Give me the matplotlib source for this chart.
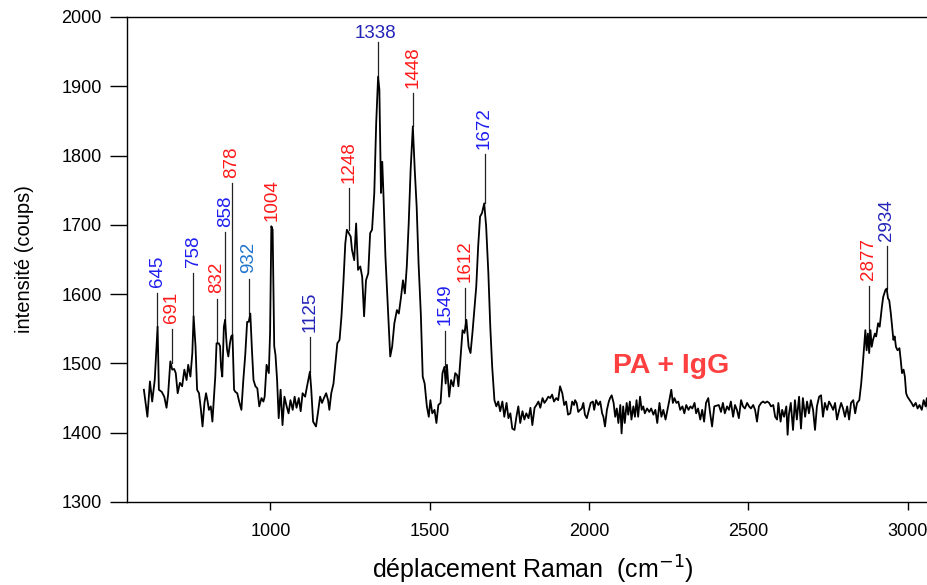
import matplotlib
matplotlib.use("Agg")
import matplotlib.pyplot as plt

plt.rcParams['font.family'] = ['Liberation Sans', 'DejaVu Sans']

# ---- spectrum (Raman shift in cm-1, intensity in counts) ----
shift = [
    603, 614, 622, 629, 637, 646, 650, 659, 667, 674, 679, 686, 692, 698, 703, 709, 716, 723, 730, 737,
    742, 749, 755, 759, 765, 770, 776, 782, 787, 793, 798, 803, 807, 813, 818, 827, 831, 838, 842, 845,
    849, 854, 858, 861, 864, 868, 873, 877, 881, 886, 890, 896, 902, 909, 915, 921, 927, 932, 937, 942,
    947, 953, 959, 965, 972, 978, 982, 988, 995, 999, 1003, 1007, 1012, 1016, 1021, 1026, 1032, 1038,
    1044, 1051, 1057, 1063, 1070, 1076, 1082, 1089, 1095, 1101, 1109, 1115, 1124, 1128, 1134, 1143,
    1149, 1156, 1162, 1168, 1175, 1181, 1185, 1191, 1198, 1204, 1210, 1217, 1223, 1229, 1235, 1240,
    1246, 1252, 1256, 1263, 1269, 1275, 1282, 1288, 1294, 1300, 1307, 1313, 1319, 1326, 1332, 1338,
    1342, 1347, 1351, 1355, 1361, 1368, 1376, 1382, 1389, 1397, 1403, 1410, 1416, 1422, 1428, 1434,
    1440, 1447, 1453, 1459, 1465, 1472, 1478, 1484, 1491, 1497,
    1502, 1508, 1515, 1521, 1527, 1534, 1540, 1546, 1550, 1554, 1561, 1567, 1574, 1580, 1586, 1590,
    1597, 1603, 1609, 1615, 1622, 1628, 1634, 1640, 1646, 1652, 1658, 1664, 1671, 1677, 1684, 1690,
    1696, 1703, 1709, 1715, 1721, 1728, 1734, 1741, 1747, 1753, 1759, 1766, 1772, 1778, 1784, 1791,
    1797, 1803, 1810, 1816, 1822, 1829, 1835, 1841, 1847, 1854, 1860, 1866, 1872, 1878, 1884, 1890,
    1897, 1903, 1909, 1916, 1922, 1928, 1934, 1941, 1947, 1953,
    1956, 1961, 1966, 1972, 1977, 1982, 1987, 1993, 1998, 2005, 2012, 2016, 2022, 2029, 2035, 2041,
    2045, 2050, 2056, 2062, 2066, 2071, 2077, 2082, 2087, 2092, 2098, 2102, 2107, 2112, 2118, 2123,
    2128, 2133, 2139, 2144, 2149, 2154, 2160, 2165, 2170, 2175, 2182, 2189, 2195, 2202, 2208, 2214,
    2221, 2227, 2233, 2240, 2246, 2252, 2258, 2263, 2268, 2274, 2280, 2286, 2293, 2299, 2305, 2312,
    2318, 2324, 2331, 2336, 2342, 2349, 2355, 2361, 2367, 2374, 2380, 2386, 2393,
    2407, 2414, 2420, 2426, 2433, 2439, 2445, 2452, 2458, 2464, 2470, 2477, 2483, 2489, 2496, 2502,
    2508, 2515, 2521, 2527, 2533, 2540, 2546, 2552, 2559, 2565, 2571, 2578, 2584, 2590, 2594, 2601,
    2606, 2612, 2619, 2623, 2627, 2633, 2640, 2646, 2652, 2659, 2665, 2671, 2678, 2684, 2690, 2696,
    2703, 2709, 2715, 2722, 2728, 2734, 2740, 2747, 2753, 2759, 2766, 2772, 2778, 2785, 2791, 2797,
    2803, 2810, 2816, 2822, 2829, 2835, 2841, 2848,
    2854, 2860, 2867, 2871, 2875, 2879, 2883, 2887, 2891, 2897, 2901, 2907, 2912, 2919, 2923, 2930,
    2934, 2938, 2942, 2947, 2951, 2955, 2959, 2963, 2968, 2974, 2978, 2982, 2987, 2991, 2995, 2999,
    3006, 3012, 3018, 3025, 3031, 3037, 3044, 3050, 3056, 3060, 3064, 3075,
]
intensity = [
    1462, 1423, 1474, 1445, 1476, 1553, 1462, 1459, 1452, 1436, 1455, 1503, 1491, 1492, 1486, 1457, 1472, 1467, 1491, 1476,
    1498, 1481, 1515, 1568, 1525, 1462, 1457, 1433, 1409, 1443, 1457, 1445, 1433, 1438, 1416, 1481, 1529, 1529, 1525, 1495,
    1481, 1553, 1563, 1539, 1520, 1510, 1529, 1539, 1541, 1462, 1459, 1457, 1445, 1433, 1476, 1512, 1560, 1560, 1572, 1520,
    1476, 1467, 1464, 1438, 1450, 1445, 1452, 1498, 1486, 1544, 1698, 1693, 1525, 1512, 1476, 1421, 1462, 1411,
    1452, 1438, 1428, 1447, 1433, 1452, 1436, 1450, 1431, 1457, 1452, 1467, 1488, 1464, 1416, 1409,
    1428, 1452, 1443, 1450, 1457, 1447, 1433, 1457, 1471, 1500, 1529, 1534, 1568, 1616, 1673, 1693,
    1688, 1683, 1664, 1649, 1702, 1635, 1640, 1625, 1568, 1620, 1630, 1688, 1693, 1746, 1847, 1914,
    1895, 1746, 1791, 1741, 1654, 1587, 1510, 1524, 1558, 1577, 1572, 1596, 1620, 1601, 1640, 1702,
    1779, 1842, 1779, 1726, 1644, 1572, 1481, 1471, 1438, 1423,
    1447, 1428, 1433, 1414, 1440, 1443, 1486, 1495, 1471, 1498, 1452, 1476, 1467, 1486, 1483, 1467,
    1510, 1548, 1544, 1563, 1524, 1515, 1544, 1577, 1611, 1669, 1712, 1717, 1731, 1698, 1630, 1553,
    1495, 1447, 1438, 1445, 1431, 1445, 1423, 1443, 1421, 1428, 1406, 1404, 1423, 1438, 1414, 1431,
    1419, 1428, 1421, 1436, 1411, 1436, 1440, 1445, 1436, 1450, 1443, 1447, 1452, 1450, 1455, 1445,
    1450, 1447, 1467, 1457, 1440, 1445, 1426, 1428, 1445, 1440,
    1447, 1443, 1430, 1433, 1435, 1443, 1426, 1421, 1430, 1443, 1445, 1433, 1447, 1440, 1445, 1428,
    1423, 1409, 1433, 1445, 1450, 1454, 1443, 1423, 1435, 1414, 1440, 1399, 1438, 1414, 1443, 1426,
    1445, 1419, 1438, 1423, 1447, 1423, 1452, 1433, 1438, 1428, 1435, 1430, 1435, 1426, 1433, 1414,
    1443, 1423, 1433, 1419, 1433, 1447, 1462, 1443, 1450, 1443, 1445, 1433, 1438, 1428, 1440, 1433,
    1438, 1435, 1443, 1428, 1435, 1419, 1433, 1416, 1443, 1450, 1428, 1409, 1438,
    1440, 1430, 1443, 1428, 1438, 1433, 1445, 1423, 1440, 1433, 1421, 1447, 1438, 1435, 1443, 1438,
    1435, 1440, 1433, 1416, 1438, 1443, 1445, 1443, 1445, 1443, 1438, 1440, 1423, 1419, 1443, 1416,
    1433, 1423, 1438, 1397, 1426, 1443, 1404, 1447, 1419, 1452, 1406, 1450, 1423, 1445, 1428, 1447,
    1433, 1404, 1438, 1452, 1454, 1423, 1443, 1433, 1445, 1440, 1433, 1443, 1419, 1433, 1443, 1435,
    1423, 1438, 1419, 1443, 1447, 1428, 1443, 1447,
    1471, 1505, 1548, 1519, 1543, 1515, 1548, 1524, 1534, 1543, 1539, 1558, 1553, 1582, 1596, 1606,
    1608, 1594, 1591, 1572, 1553, 1534, 1539, 1524, 1519, 1522, 1505, 1486, 1491, 1481, 1457, 1452,
    1447, 1443, 1438, 1443, 1435, 1440, 1433, 1447, 1438, 1450, 1428, 1435,
]

# ---- peak annotations ----
peak_labels = ['645', '691', '758', '832', '858', '878', '932', '1004', '1125',
               '1248', '1338', '1448', '1549', '1612', '1672', '2877', '2934']
peak_pos = [645, 691, 758, 832, 858, 878, 932, 1004, 1125,
            1248, 1338, 1448, 1549, 1612, 1672, 2877, 2934]
line_bottom = [1553, 1500, 1568, 1529, 1563, 1541, 1572, 1698, 1488,
               1693, 1914, 1842, 1495, 1548, 1731, 1530, 1608]
line_top = [1602, 1550, 1631, 1593, 1689, 1760, 1622, 1698, 1538,
            1753, 1964, 1890, 1547, 1609, 1802, 1612, 1669]
peak_colors = ['#1e1ef0', '#ff1a1a', '#1e1ef0', '#ff1a1a', '#1e1ef0', '#ff1a1a', '#1f74cc',
               '#ff1a1a', '#2323b8', '#ff1a1a', '#2323b8', '#ff1a1a', '#1e1ef0', '#ff1a1a',
               '#1e1ef0', '#ff1a1a', '#2323b8']

x_ticks = [1000, 1500, 2000, 2500, 3000]
y_ticks = [1300, 1400, 1500, 1600, 1700, 1800, 1900, 2000]

fig = plt.figure(figsize=(9.28, 5.85), dpi=100)
ax = fig.add_axes([127 / 928, 83 / 585, 812.6 / 928, 485 / 585])

ax.plot(shift, intensity, color='black', lw=1.3, zorder=3)

for lab, xp, yb, yt, c in zip(peak_labels, peak_pos, line_bottom, line_top, peak_colors):
    ax.plot([xp, xp], [yb, yt], color='#222222', lw=0.9, zorder=2)
    if lab == '1338':
        ax.annotate(lab, xy=(xp, yt), xytext=(-2, 0), textcoords='offset points',
                    ha='center', va='bottom', color=c, fontsize=13.5)
    else:
        ax.annotate(lab, xy=(xp, yt), xytext=(0, 4), textcoords='offset points',
                    ha='center', va='bottom', rotation=90, color=c, fontsize=13.5)

ax.text(2257, 1496, 'PA + IgG', color='#ff4040', fontsize=20.5, fontweight='bold',
        ha='center', va='center')

ax.set_xlim(550, 3100)
ax.set_ylim(1300, 2000)
ax.set_xticks(x_ticks)
ax.set_yticks(y_ticks)
ax.tick_params(axis='y', direction='out', length=12, width=1, pad=6, labelsize=13)
ax.tick_params(axis='x', direction='out', length=6, width=1, pad=9, labelsize=13)
for s in ['left', 'bottom', 'top']:
    ax.spines[s].set_linewidth(1.0)
ax.spines['right'].set_visible(False)

ax.set_ylabel('intensité (coups)', fontsize=14.5, labelpad=20)
ax.set_xlabel('déplacement Raman  (cm$^{-1}$)', fontsize=18, labelpad=10)

fig.savefig('out.png', dpi=100)
